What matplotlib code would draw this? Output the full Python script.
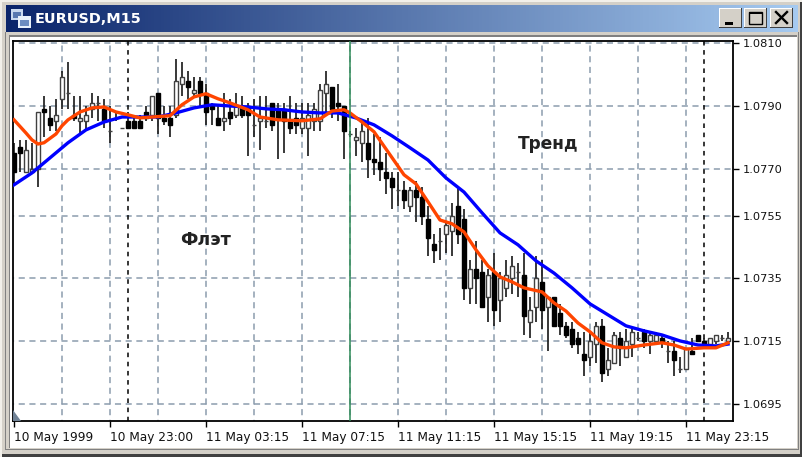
# EURUSD M15 chart with two moving averages, MetaTrader window look
import numpy as np
import matplotlib
matplotlib.use('Agg')
import matplotlib.pyplot as plt
from matplotlib.patches import Rectangle, Polygon

opens = [
    1.0775, 1.0777, 1.0769, 1.0769, 1.0770, 1.0789, 1.0786, 1.0785, 1.0792, 1.0794,
    1.0787, 1.0785, 1.0785, 1.0789, 1.0791, 1.0789, 1.0782, 1.0786, 1.0783, 1.0785,
    1.0785, 1.0785, 1.0788, 1.0787, 1.0794, 1.0786, 1.0786, 1.0787, 1.0797, 1.0798,
    1.0794, 1.0798, 1.0794, 1.0790, 1.0786, 1.0785, 1.0788, 1.0787, 1.0790, 1.0790,
    1.0784, 1.0785, 1.0785, 1.0791, 1.0789, 1.0789, 1.0785, 1.0786, 1.0783, 1.0783,
    1.0785, 1.0785, 1.0794, 1.0796, 1.0791, 1.0790, 1.0781, 1.0779, 1.0778, 1.0778,
    1.0773, 1.0772, 1.0769, 1.0767, 1.0763, 1.0763, 1.0758, 1.0763, 1.0761, 1.0754,
    1.0746, 1.0747, 1.0749, 1.0750, 1.0758, 1.0754, 1.0732, 1.0738, 1.0737, 1.0729,
    1.0737, 1.0728, 1.0732, 1.0735, 1.0737, 1.0736, 1.0721, 1.0726, 1.0734, 1.0726,
    1.0729, 1.0724, 1.0720, 1.0719, 1.0716, 1.0711, 1.0710, 1.0714, 1.0720, 1.0706,
    1.0708, 1.0716, 1.0710, 1.0714, 1.0716, 1.0718, 1.0715, 1.0715, 1.0716, 1.0712,
    1.0712, 1.0706, 1.0706, 1.0712, 1.0717, 1.0715, 1.0714, 1.0715, 1.0716, 1.0715,
]
closes = [
    1.0769, 1.0775, 1.0776, 1.0770, 1.0788, 1.0788, 1.0784, 1.0787, 1.0799, 1.0794,
    1.0786, 1.0786, 1.0787, 1.0791, 1.0791, 1.0785, 1.0782, 1.0786, 1.0783, 1.0783,
    1.0783, 1.0783, 1.0786, 1.0793, 1.0786, 1.0785, 1.0784, 1.0798, 1.0799, 1.0796,
    1.0795, 1.0794, 1.0788, 1.0789, 1.0784, 1.0786, 1.0786, 1.0790, 1.0787, 1.0787,
    1.0784, 1.0786, 1.0785, 1.0784, 1.0786, 1.0785, 1.0783, 1.0784, 1.0786, 1.0787,
    1.0789, 1.0795, 1.0797, 1.0789, 1.0790, 1.0782, 1.0781, 1.0780, 1.0782, 1.0773,
    1.0772, 1.0770, 1.0767, 1.0764, 1.0763, 1.0760, 1.0763, 1.0761, 1.0755, 1.0748,
    1.0744, 1.0747, 1.0752, 1.0755, 1.0749, 1.0732, 1.0738, 1.0735, 1.0726, 1.0736,
    1.0725, 1.0735, 1.0736, 1.0739, 1.0737, 1.0723, 1.0725, 1.0735, 1.0725, 1.0729,
    1.0720, 1.0720, 1.0717, 1.0714, 1.0714, 1.0709, 1.0715, 1.0720, 1.0705, 1.0709,
    1.0717, 1.0713, 1.0715, 1.0718, 1.0716, 1.0715, 1.0717, 1.0717, 1.0715, 1.0712,
    1.0709, 1.0706, 1.0713, 1.0711, 1.0715, 1.0714, 1.0716, 1.0717, 1.0716, 1.0716,
]
highs = [
    1.0778, 1.0779, 1.0779, 1.0778, 1.0788, 1.0793, 1.0790, 1.0792, 1.0801, 1.0804,
    1.0793, 1.0793, 1.0790, 1.0794, 1.0793, 1.0792, 1.0790, 1.0788, 1.0783, 1.0788,
    1.0787, 1.0787, 1.0790, 1.0793, 1.0794, 1.0790, 1.0790, 1.0805, 1.0804, 1.0801,
    1.0799, 1.0799, 1.0797, 1.0791, 1.0790, 1.0794, 1.0792, 1.0794, 1.0793, 1.0791,
    1.0792, 1.0793, 1.0793, 1.0791, 1.0791, 1.0791, 1.0793, 1.0791, 1.0791, 1.0791,
    1.0791, 1.0797, 1.0801, 1.0796, 1.0797, 1.0790, 1.0782, 1.0783, 1.0785, 1.0786,
    1.0781, 1.0780, 1.0775, 1.0769, 1.0769, 1.0766, 1.0764, 1.0766, 1.0764, 1.0758,
    1.0749, 1.0751, 1.0753, 1.0759, 1.0764, 1.0757, 1.0741, 1.0747, 1.0741, 1.0738,
    1.0743, 1.0737, 1.0741, 1.0742, 1.0740, 1.0743, 1.0729, 1.0742, 1.0741, 1.0729,
    1.0729, 1.0727, 1.0721, 1.0721, 1.0718, 1.0718, 1.0718, 1.0721, 1.0722, 1.0713,
    1.0718, 1.0718, 1.0719, 1.0720, 1.0718, 1.0719, 1.0718, 1.0718, 1.0717, 1.0715,
    1.0715, 1.0710, 1.0713, 1.0716, 1.0717, 1.0716, 1.0716, 1.0717, 1.0717, 1.0718,
]
lows = [
    1.0765, 1.0769, 1.0769, 1.0769, 1.0764, 1.0780, 1.0782, 1.0782, 1.0789, 1.0789,
    1.0785, 1.0781, 1.0782, 1.0786, 1.0785, 1.0783, 1.0778, 1.0785, 1.0783, 1.0783,
    1.0783, 1.0783, 1.0785, 1.0785, 1.0781, 1.0784, 1.0780, 1.0786, 1.0793, 1.0792,
    1.0793, 1.0790, 1.0784, 1.0784, 1.0784, 1.0782, 1.0784, 1.0786, 1.0786, 1.0774,
    1.0780, 1.0776, 1.0783, 1.0782, 1.0773, 1.0775, 1.0781, 1.0781, 1.0781, 1.0774,
    1.0782, 1.0782, 1.0788, 1.0786, 1.0785, 1.0773, 1.0780, 1.0774, 1.0772, 1.0767,
    1.0768, 1.0766, 1.0762, 1.0757, 1.0758, 1.0757, 1.0756, 1.0753, 1.0752, 1.0742,
    1.0740, 1.0741, 1.0743, 1.0742, 1.0746, 1.0728, 1.0727, 1.0727, 1.0726, 1.0721,
    1.0720, 1.0721, 1.0729, 1.0730, 1.0729, 1.0717, 1.0716, 1.0721, 1.0719, 1.0712,
    1.0720, 1.0717, 1.0716, 1.0713, 1.0711, 1.0704, 1.0707, 1.0708, 1.0702, 1.0704,
    1.0708, 1.0707, 1.0710, 1.0710, 1.0715, 1.0713, 1.0711, 1.0715, 1.0713, 1.0708,
    1.0704, 1.0705, 1.0706, 1.0711, 1.0715, 1.0714, 1.0713, 1.0714, 1.0715, 1.0715,
]

fast_bars = [
    0, 2, 3, 4, 5, 7, 8, 9, 11, 13, 15, 17, 19, 21, 23, 26, 28, 30, 32, 34,
    36, 39, 41, 44, 48, 51, 53, 55, 56, 58, 60, 62, 65, 67, 69, 71, 73, 75, 77, 79,
    81, 83, 85, 88, 90, 92, 94, 96, 98, 100, 102, 105, 108, 110, 112, 115, 117, 119,
]
ma_fast = [
    1.07855, 1.07813, 1.07791, 1.07778, 1.07782, 1.07810, 1.07836, 1.07855, 1.07880, 1.07893,
    1.07896, 1.07880, 1.07871, 1.07861, 1.07864, 1.07868, 1.07903, 1.07928, 1.07938, 1.07922,
    1.07909, 1.07887, 1.07864, 1.07855, 1.07852, 1.07858, 1.07883, 1.07887, 1.07877, 1.07848,
    1.07817, 1.07762, 1.07680, 1.07651, 1.07594, 1.07536, 1.07524, 1.07498, 1.07441, 1.07390,
    1.07355, 1.07339, 1.07320, 1.07307, 1.07272, 1.07246, 1.07208, 1.07180, 1.07145, 1.07132,
    1.07129, 1.07138, 1.07145, 1.07138, 1.07125, 1.07129, 1.07129, 1.07145,
]
slow_bars = list(range(0, 118, 3)) + [119]
ma_slow = [
    1.07648, 1.07686, 1.07734, 1.07782, 1.07823, 1.07848, 1.07864, 1.07864, 1.07864, 1.07877,
    1.07893, 1.07903, 1.07899, 1.07896, 1.07890, 1.07887, 1.07880, 1.07877, 1.07877, 1.07861,
    1.07839, 1.07804, 1.07766, 1.07727, 1.07670, 1.07625, 1.07559, 1.07495, 1.07457, 1.07406,
    1.07367, 1.07320, 1.07269, 1.07234, 1.07199, 1.07183, 1.07170, 1.07151, 1.07138, 1.07135,
    1.07141,
]

price_ticks = [1.0810, 1.0790, 1.0770, 1.0755, 1.0735, 1.0715, 1.0695]
time_bars = [0, 16, 32, 48, 64, 80, 96, 112]
time_labels = ['10 May 1999', '10 May 23:00', '11 May 03:15', '11 May 07:15',
               '11 May 11:15', '11 May 15:15', '11 May 19:15', '11 May 23:15']
grid_bars = list(range(8, 120, 8))
day_bars = [19, 115]
marker_bar = 56

GRID = '#8C9CAE'
FONT = 'DejaVu Sans'

fig = plt.figure(figsize=(8.03, 4.57), dpi=100, facecolor='#D4D0C8')

# window frame, drawn in pixel coordinates
bg = fig.add_axes([0, 0, 1, 1])
bg.set_xlim(0, 803)
bg.set_ylim(457, 0)
bg.axis('off')

def box(x0, y0, x1, y1, color, **kw):
    bg.add_patch(Rectangle((x0, y0), x1 - x0, y1 - y0, facecolor=color, edgecolor='none', **kw))

box(800, 0, 803, 457, '#404040')
box(0, 454, 803, 457, '#404040')
box(0, 0, 803, 2, '#F2F0EA')
box(0, 0, 2, 457, '#F2F0EA')
box(5, 32, 799, 450, '#808080')
box(6, 32, 798, 449, '#D4D0C8')
box(9, 35, 797, 448, '#808080')
box(10, 37, 797, 448, '#FFFFFF')

title = np.linspace(0, 1, 256).reshape(1, -1)
cmap = matplotlib.colors.LinearSegmentedColormap.from_list('title', ['#0A246A', '#A6CAF0'])
bg.imshow(title, extent=(6, 798, 32, 5), aspect='auto', cmap=cmap, zorder=0)
bg.set_xlim(0, 803)
bg.set_ylim(457, 0)
bg.text(35, 19, 'EURUSD,M15', color='white', fontsize=10.4, fontweight='bold',
        family=FONT, va='center', ha='left')

# window icon
box(11, 9, 23, 20, '#C8D8EE')
box(13, 12, 21, 18, '#5878B0')
box(18, 16, 31, 28, '#E8F0FA')
box(20, 20, 29, 26, '#6C8CC0')

# window buttons
for x0, x1 in [(719, 742), (744, 767), (770, 793)]:
    box(x0, 8, x1, 28, '#404040')
    box(x0, 8, x1 - 1, 27, '#FFFFFF')
    box(x0 + 1, 9, x1 - 1, 27, '#D4D0C8')
box(725, 22, 733, 25, 'black')
bg.add_patch(Rectangle((749, 12), 13, 12, facecolor='none', edgecolor='black', linewidth=1))
box(749, 12, 762, 14, 'black')
bg.plot([776, 787], [12, 23], color='black', lw=1.7)
bg.plot([776, 787], [23, 12], color='black', lw=1.7)

# price chart
W, H = 803.0, 457.0
ax = fig.add_axes([13 / W, 1 - 421 / H, 720 / W, 380 / H], facecolor='white')
ax.set_xlim(-1 / 6, 119 + 5 / 6)
ax.set_ylim(1.06896, 1.08106)

ax.hlines(price_ticks, -1, 120, color=GRID, linewidth=1.1, linestyles=(0, (4, 3)), zorder=1)
ax.vlines(grid_bars, 1.06, 1.09, color=GRID, linewidth=1.1, linestyles=(0, (4, 3)), zorder=1)
ax.vlines(day_bars, 1.06, 1.09, color='black', linewidth=1.1, linestyles=(0, (3, 3)), zorder=1)

bars = np.arange(len(opens))
opens_a = np.array(opens)
closes_a = np.array(closes)
up = closes_a >= opens_a
ax.vlines(bars, lows, highs, color='#202020', linewidth=1.25, zorder=2)
ax.bar(bars[up], (closes_a - opens_a)[up], bottom=opens_a[up], width=0.55,
       facecolor='white', edgecolor='#404040', linewidth=1.0, zorder=3)
ax.bar(bars[~up], (closes_a - opens_a)[~up], bottom=opens_a[~up], width=0.6,
       facecolor='black', edgecolor='black', linewidth=1.0, zorder=3)

ax.plot(slow_bars, ma_slow, color='#0000FF', linewidth=2.4, zorder=4)
ax.plot(fast_bars, ma_fast, color='#FF4500', linewidth=2.4, zorder=5)
ax.axvline(marker_bar, color='#2E8B57', linewidth=1.1, zorder=6)

ax.text(32, 1.07473, 'Флэт', fontsize=12.6, fontweight='bold', family=FONT,
        color='#222222', ha='center', va='center', zorder=7)
ax.text(89, 1.07778, 'Тренд', fontsize=12.2, fontweight='bold', family=FONT,
        color='#222222', ha='center', va='center', zorder=7)

ax.add_patch(Polygon([(0, 0), (8 / 720, 0), (0, 11 / 380)], closed=True, transform=ax.transAxes,
                     facecolor='#708296', edgecolor='none', zorder=7))

for side in ax.spines.values():
    side.set_color('black')
    side.set_linewidth(1.3)

ax.yaxis.tick_right()
ax.set_yticks(price_ticks)
ax.set_yticklabels(['%.4f' % p for p in price_ticks], fontsize=8.2, family=FONT, color='#111111', ha='left')
ax.tick_params(axis='y', direction='out', length=4, width=1, pad=3)
ax.set_xticks(time_bars)
ax.set_xticklabels(time_labels, fontsize=8.7, family=FONT, color='#111111', ha='left')
ax.tick_params(axis='x', direction='out', length=4, width=1, pad=3)

fig.savefig('out.png', dpi=100, facecolor=fig.get_facecolor())
